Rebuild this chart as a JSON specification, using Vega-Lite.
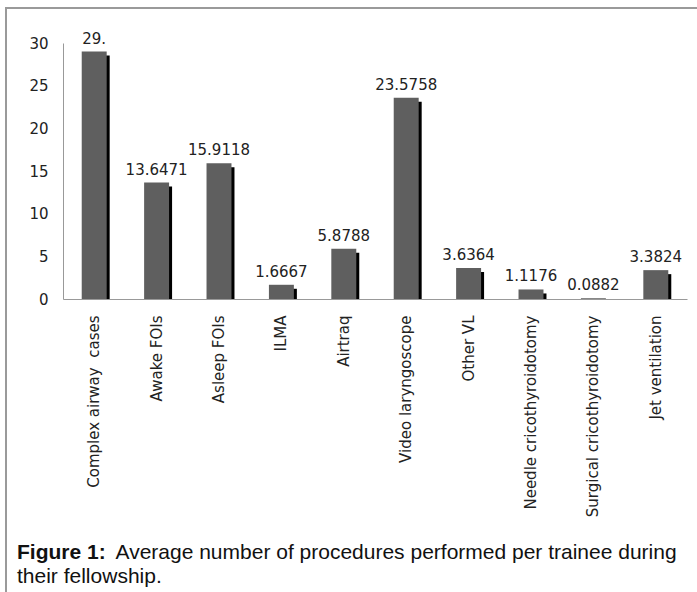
{
  "$schema": "https://vega.github.io/schema/vega-lite/v6.json",
  "width": 691,
  "height": 584,
  "autosize": {"type": "none"},
  "padding": {"left": 6, "top": 8, "right": 0, "bottom": 0},
  "background": "white",
  "config": {
    "view": {"stroke": "#9a9a9a", "strokeWidth": 2, "strokeDash": [691, 1275, 584]},
    "font": "DejaVu Sans"
  },
  "title": {
    "text": "Figure 1:",
    "subtitle": "their fellowship.",
    "orient": "bottom",
    "anchor": "start",
    "frame": "group",
    "offset": -50,
    "dx": 11,
    "font": "Liberation Sans",
    "fontSize": 21,
    "fontWeight": "bold",
    "color": "#111111",
    "subtitleFont": "Liberation Sans",
    "subtitleFontSize": 21,
    "subtitleColor": "#111111",
    "subtitlePadding": 3
  },
  "data": {
    "values": [
      {"procedure": "Complex airway\u00a0 cases", "value": 29, "label": "29."},
      {"procedure": "Awake FOIs", "value": 13.6471, "label": "13.6471"},
      {"procedure": "Asleep FOIs", "value": 15.9118, "label": "15.9118"},
      {"procedure": "ILMA", "value": 1.6667, "label": "1.6667"},
      {"procedure": "Airtraq", "value": 5.8788, "label": "5.8788"},
      {"procedure": "Video laryngoscope", "value": 23.5758, "label": "23.5758"},
      {"procedure": "Other VL", "value": 3.6364, "label": "3.6364"},
      {"procedure": "Needle cricothyroidotomy", "value": 1.1176, "label": "1.1176"},
      {"procedure": "Surgical cricothyroidotomy", "value": 0.0882, "label": "0.0882"},
      {"procedure": "Jet ventilation", "value": 3.3824, "label": "3.3824"}
    ]
  },
  "encoding": {
    "x": {
      "field": "procedure",
      "type": "nominal",
      "sort": ["Complex airway\u00a0 cases", "Awake FOIs", "Asleep FOIs", "ILMA", "Airtraq", "Video laryngoscope", "Other VL", "Needle cricothyroidotomy", "Surgical cricothyroidotomy", "Jet ventilation"],
      "scale": {"range": [57, 681], "paddingInner": 0, "paddingOuter": 0},
      "axis": {
        "title": "Average number of procedures performed per trainee during",
        "titleFont": "Liberation Sans",
        "titleFontSize": 21,
        "titleFontWeight": "normal",
        "titleColor": "#111111",
        "titleAnchor": "start",
        "titleAlign": "left",
        "titleX": 109,
        "titleY": 259,
        "titleBaseline": "alphabetic",
        "labelAngle": -90,
        "labelFontSize": 15,
        "labelColor": "#222222",
        "labelPadding": 16,
        "labelLimit": 300,
        "ticks": false,
        "domainColor": "#999999",
        "offset": -293
      }
    },
    "y": {
      "field": "value",
      "type": "quantitative",
      "stack": null,
      "scale": {"domain": [0, 30], "range": [291, 35], "nice": false},
      "axis": {
        "title": null,
        "orient": "left",
        "offset": -57,
        "values": [0, 5, 10, 15, 20, 25, 30],
        "ticks": false,
        "grid": false,
        "labelPadding": 15,
        "labelFontSize": 15,
        "labelColor": "#222222",
        "domainColor": "#999999"
      }
    }
  },
  "layer": [
    {
      "transform": [{"filter": "datum.value > 0.5"}],
      "mark": {"type": "bar", "color": "#000000", "width": {"band": 0.4}, "xOffset": 3, "x2Offset": 3, "yOffset": 4}
    },
    {
      "mark": {"type": "bar", "color": "#5f5f5f", "width": {"band": 0.4}}
    },
    {
      "mark": {"type": "text", "dy": -8, "baseline": "alphabetic", "fontSize": 15, "color": "#222222"},
      "encoding": {"text": {"field": "label"}}
    }
  ]
}
